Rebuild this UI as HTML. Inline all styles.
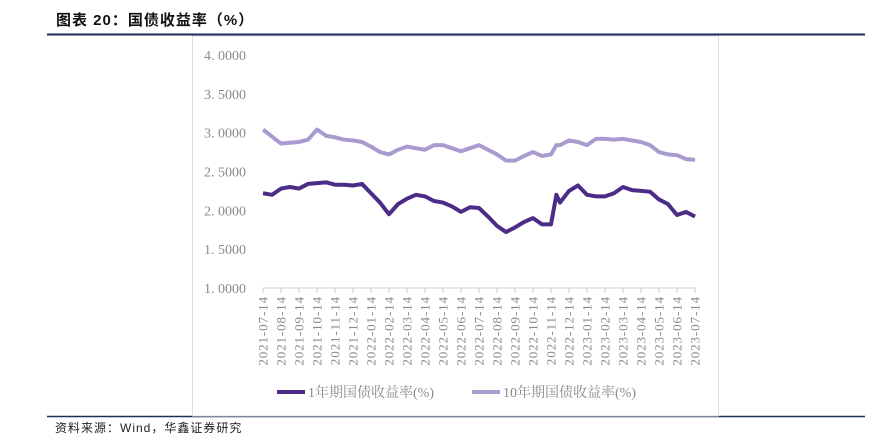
<!DOCTYPE html>
<html><head><meta charset="utf-8"><style>
body{margin:0;width:872px;height:442px;background:#fff;position:relative;overflow:hidden;font-family:"Liberation Serif","Noto Serif CJK SC",serif}
.title{position:absolute;left:56px;top:9px;font:bold 15px "Liberation Sans","Noto Sans CJK SC",sans-serif;color:#111;letter-spacing:1px}
.src{position:absolute;left:55px;top:419px;font:12px "Liberation Sans","Noto Sans CJK SC",sans-serif;color:#222;letter-spacing:1px}
</style></head><body>
<div class="title">图表 20：国债收益率（%）</div>
<svg id="c" width="872" height="442" style="position:absolute;left:0;top:0">
<line x1="47" y1="34.5" x2="865" y2="34.5" stroke="#1f2d5a" stroke-width="2"/>
<line x1="47" y1="416.5" x2="865" y2="416.5" stroke="#1f2d5a" stroke-width="1.5"/>
<rect x="192.5" y="36" width="526" height="380" fill="none" stroke="#ddd"/>
<g id="g"></g>
</svg>
<div class="src">资料来源：Wind，华鑫证券研究</div>
<script>
const months=[0,0.5,1,1.5,2,2.5,3,3.5,4,4.5,5,5.5,6,6.5,7,7.5,8,8.5,9,9.5,10,10.5,11,11.5,12,12.5,13,13.5,14,14.5,15,15.5,16,16.3,16.5,17,17.5,18,18.5,19,19.5,20,20.5,21,21.5,22,22.5,23,23.5,24];
const y10=[3.04,2.95,2.86,2.87,2.88,2.91,3.04,2.96,2.94,2.91,2.90,2.88,2.82,2.75,2.72,2.78,2.82,2.80,2.78,2.84,2.84,2.80,2.76,2.80,2.84,2.78,2.72,2.64,2.64,2.70,2.75,2.70,2.72,2.84,2.84,2.90,2.88,2.84,2.92,2.92,2.91,2.92,2.90,2.88,2.84,2.75,2.72,2.71,2.66,2.65];
const y1=[2.22,2.20,2.28,2.30,2.28,2.34,2.35,2.36,2.33,2.33,2.32,2.34,2.22,2.10,1.95,2.08,2.15,2.20,2.18,2.12,2.10,2.05,1.98,2.04,2.03,1.92,1.80,1.72,1.78,1.85,1.90,1.82,1.82,2.20,2.10,2.25,2.32,2.20,2.18,2.18,2.22,2.30,2.26,2.25,2.24,2.14,2.08,1.94,1.98,1.92];
const yTicks=[1,1.5,2,2.5,3,3.5,4];
const xLabels=[];for(let y=2021,m=7;xLabels.length<25;){xLabels.push(y+"-"+String(m).padStart(2,"0")+"-14");m++;if(m>12){m=1;y++;}}
const X=m=>263+m*18, Y=v=>288-(v-1)*(233/3);
const ns="http://www.w3.org/2000/svg",g=document.getElementById("g");
function el(t,a){const e=document.createElementNS(ns,t);for(const k in a)e.setAttribute(k,a[k]);g.appendChild(e);return e;}
yTicks.forEach(v=>{const t=el("text",{x:246,y:Y(v)+5,"text-anchor":"end","font-size":"14",fill:"#8a8a8a"});t.textContent=v.toFixed(4).replace(".",". ");

});
const ax=el("line",{x1:263,y1:288,x2:X(24),y2:288,stroke:"#ccc"});


xLabels.forEach((l,i)=>{const tk=el("line",{x1:X(i),y1:288,x2:X(i),y2:293,stroke:"#ccc"});


const t=el("text",{transform:`translate(${X(i)+4.5},296) rotate(-90)`,"text-anchor":"end","font-size":"13","letter-spacing":"0.9",fill:"#8a8a8a"});t.textContent=l;

});
function line(d,c,n){const p=el("polyline",{points:d.map((v,i)=>X(months[i])+","+Y(v)).join(" "),fill:"none",stroke:c,"stroke-width":4,"stroke-linejoin":"round"});

}
line(y10,"#a99bd0","series-10y");
line(y1,"#4b2c86","series-1y");
[[277,"#4b2c86","1年期国债收益率(%)","legend-1y"],[472,"#a99bd0","10年期国债收益率(%)","legend-10y"]].forEach(a=>{
const l=el("line",{x1:a[0],y1:392,x2:a[0]+28,y2:392,stroke:a[1],"stroke-width":4});


const t=el("text",{x:a[0]+31,y:397,"font-size":"14",fill:"#8a8a8a"});t.textContent=a[2];

});
</script>
</body></html>
